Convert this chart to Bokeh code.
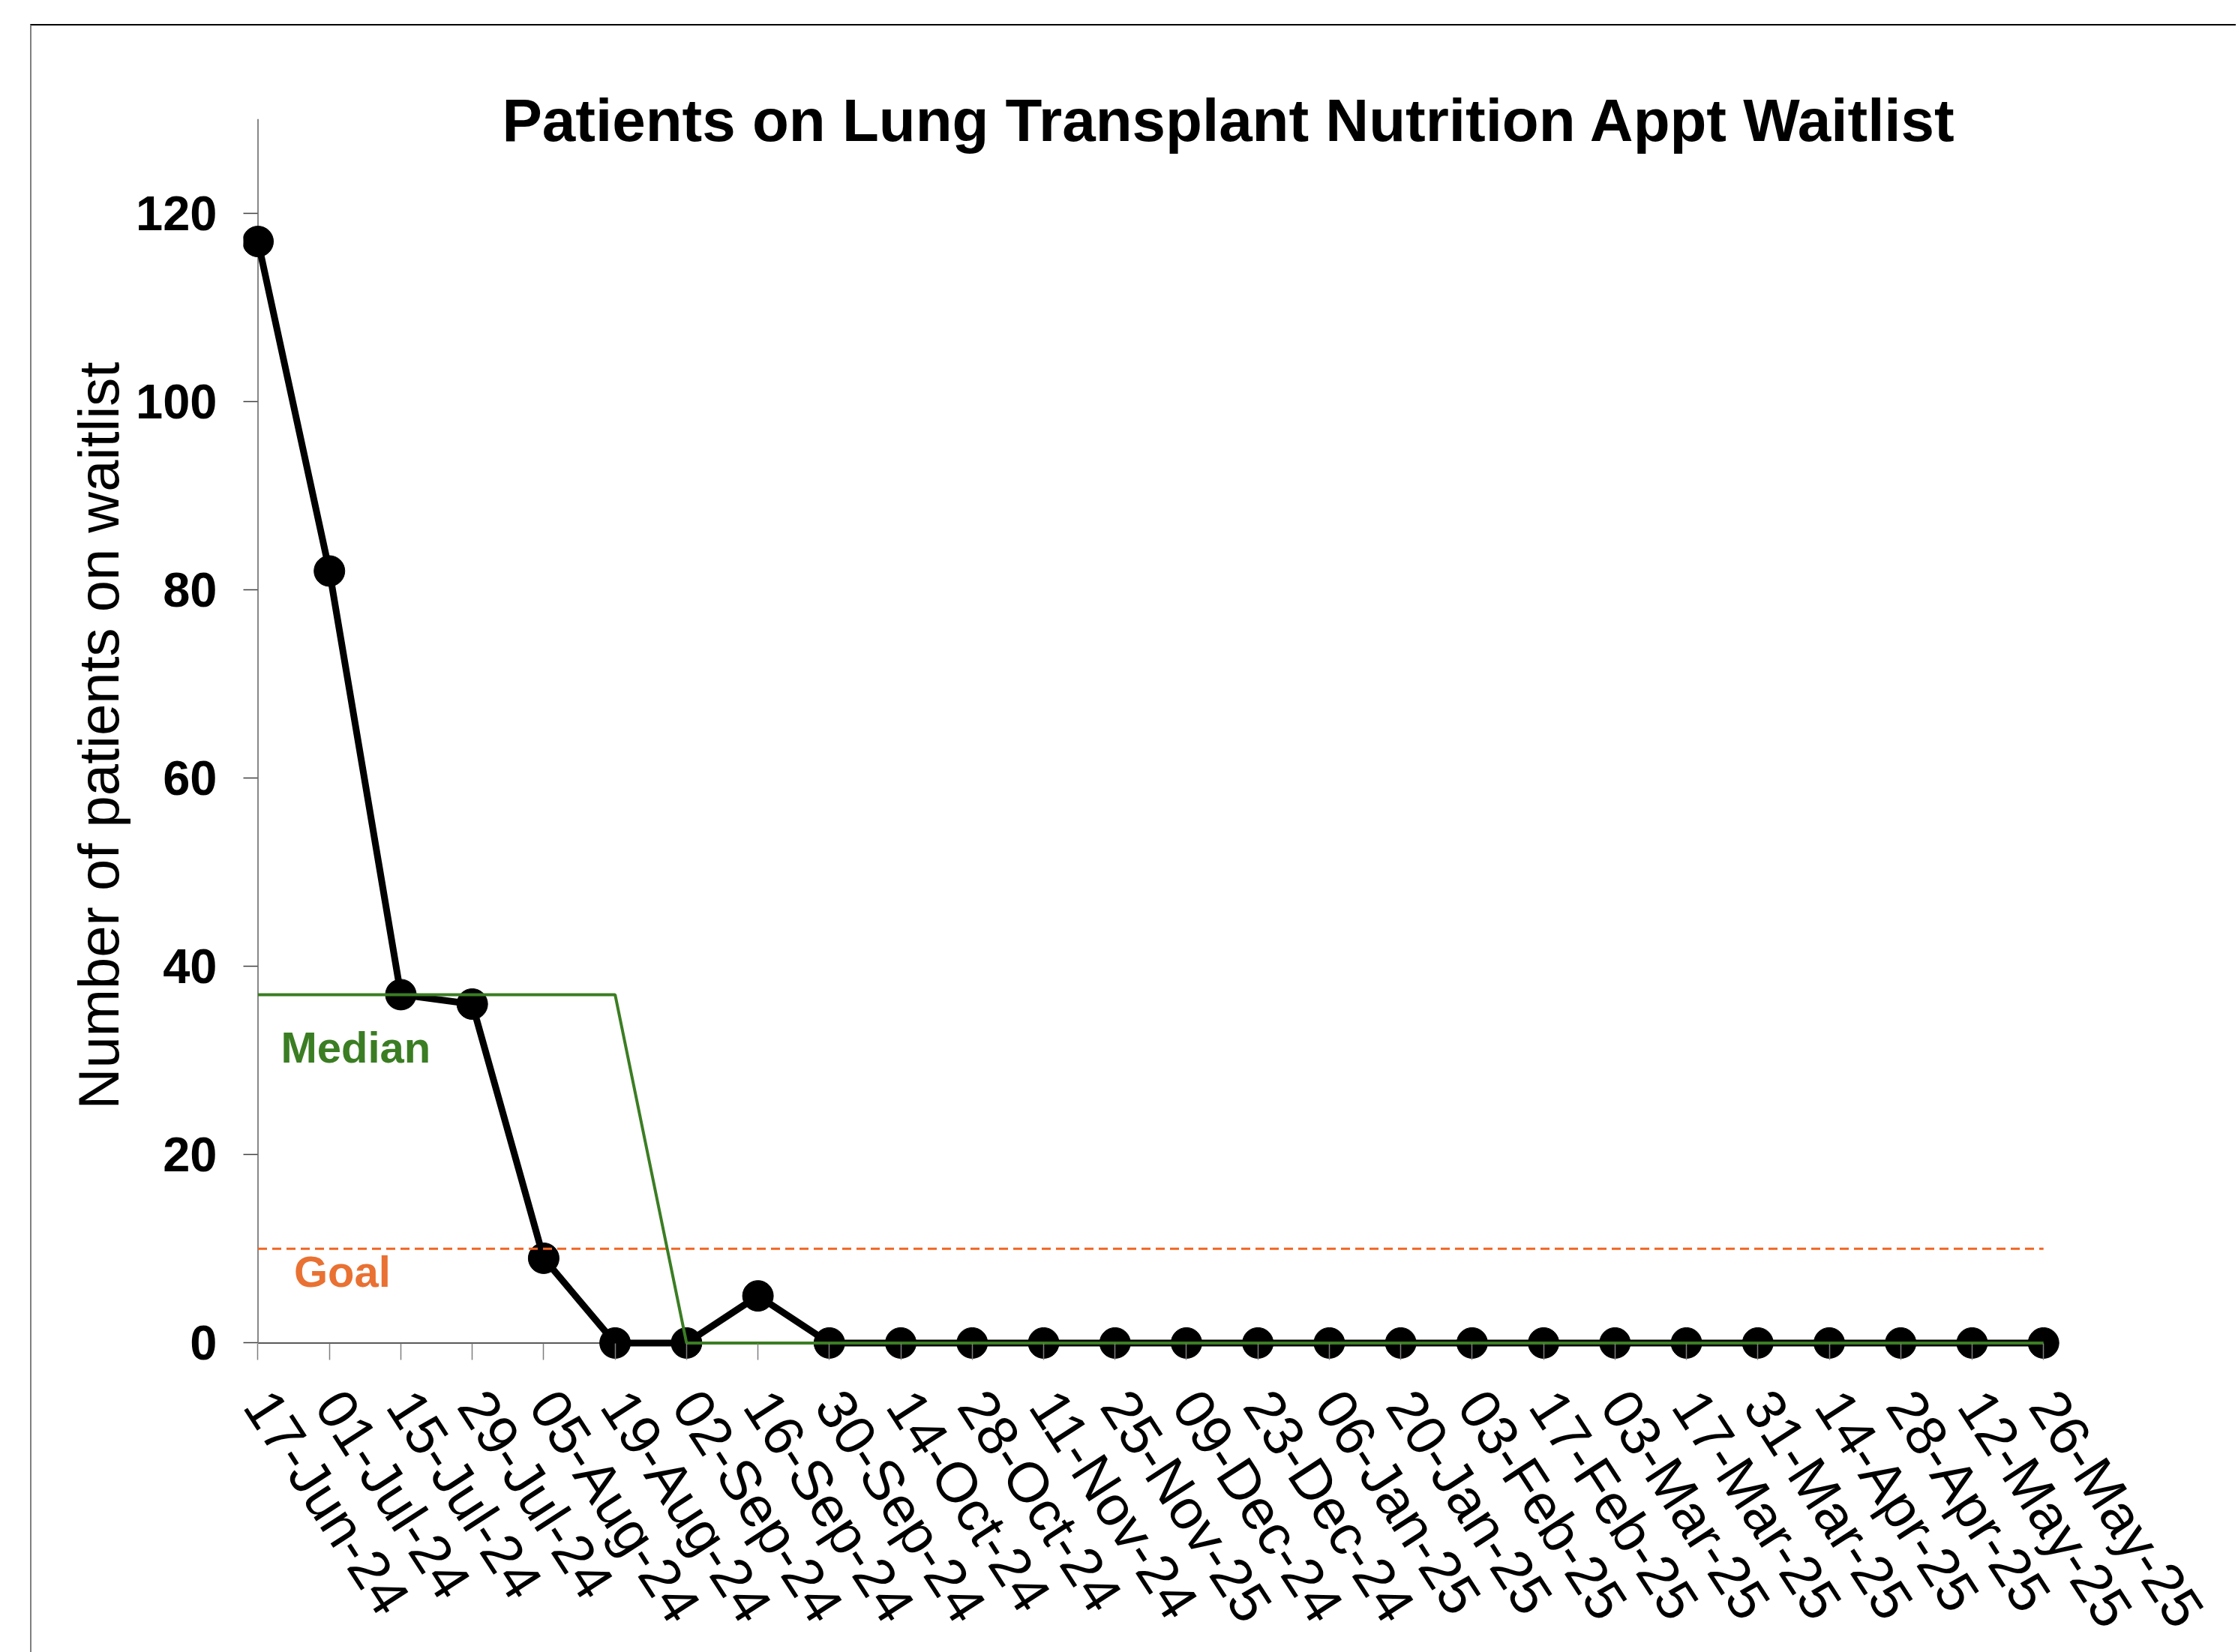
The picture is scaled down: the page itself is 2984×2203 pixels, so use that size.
import math
from bokeh.plotting import figure
from bokeh.models import Range1d, FixedTicker, Label, Title
from bokeh.embed import file_html
from bokeh.resources import INLINE

dates = ["17-Jun-24", "01-Jul-24", "15-Jul-24", "29-Jul-24", "05-Aug-24", "19-Aug-24",
         "02-Sep-24", "16-Sep-24", "30-Sep-24", "14-Oct-24", "28-Oct-24", "11-Nov-24",
         "25-Nov-25", "09-Dec-24", "23-Dec-24", "06-Jan-25", "20-Jan-25", "03-Feb-25",
         "17-Feb-25", "03-Mar-25", "17-Mar-25", "31-Mar-25", "14-Apr-25", "28-Apr-25",
         "12-May-25", "26-May-25"]
waitlist = [117, 82, 37, 36, 9, 0, 0, 5, 0, 0, 0, 0, 0, 0, 0, 0, 0, 0, 0, 0, 0, 0, 0, 0, 0, 0]
median = [37, 37, 37, 37, 37, 37, 0, 0, 0, 0, 0, 0, 0, 0, 0, 0, 0, 0, 0, 0, 0, 0, 0, 0, 0, 0]
goal = [10, 10, 10, 10, 10, 10, 10, 10, 10, 10, 10, 10, 10, 10, 10, 10, 10, 10, 10, 10, 10, 10, 10, 10, 10, 10]
y_ticks = [0, 20, 40, 60, 80, 100, 120]
y_max = 130

TITLE = "Patients on Lung Transplant Nutrition Appt Waitlist"
Y_LABEL = "Number of patients on waitlist"

x = list(range(len(dates)))

GREEN = "#3B7D23"
ORANGE_LINE = "#F26522"
ORANGE_TEXT = "#E97132"

X_TICK = 19.5      # px, tick length on x axis side (y-axis ticks)
Y_PAD = 1.8        # data units below zero

p = figure(frame_width=2424, frame_height=1730,
           x_range=Range1d(-X_TICK / 95.23, 25.25), y_range=Range1d(-Y_PAD, 136),
           output_backend="svg", toolbar_location=None,
           min_border_left=282, min_border_top=49, min_border_right=233,
           min_border_bottom=380,
           margin=(32, 0, 0, 40),
           styles={"border-top": "2px solid #000000", "border-left": "2px solid #808080"},
           background_fill_color="white", border_fill_color="white")

p.outline_line_color = None
p.xgrid.visible = False
p.ygrid.visible = False

# axis lines drawn at the data origin
p.line([x[0], x[-1]], [0, 0], line_width=2, color="#5a5a5a")
p.line([x[0], x[0]], [0, y_max], line_width=2, color="#878787")

# series
p.line(x, waitlist, line_width=9, color="black")
p.scatter(x, waitlist, size=41, color="black")
p.line(x, goal, line_width=3, color=ORANGE_LINE, line_dash="12 7")
p.line(x, median, line_width=4, color=GREEN)

# axes (ticks reach inward from the frame edge to the origin lines)
p.xaxis.ticker = FixedTicker(ticks=x)
p.xaxis.major_label_overrides = {i: d for i, d in zip(x, dates)}
p.xaxis.major_label_orientation = -math.radians(57)
p.xaxis.major_label_text_font = "Liberation Sans"
p.xaxis.major_label_text_font_size = "75px"
p.xaxis.major_label_text_color = "black"
p.xaxis.major_label_standoff = 48
p.xaxis.axis_line_color = None
p.xaxis.major_tick_line_color = "#7f7f7f"
p.xaxis.major_tick_line_width = 1.5
p.xaxis.major_tick_out = 0
p.xaxis.major_tick_in = 22
p.xaxis.minor_tick_line_color = None

p.yaxis.ticker = FixedTicker(ticks=y_ticks)
p.yaxis.major_label_text_font = "Liberation Sans"
p.yaxis.major_label_text_font_style = "bold"
p.yaxis.major_label_text_font_size = "65px"
p.yaxis.major_label_text_color = "black"
p.yaxis.major_label_standoff = 35
p.yaxis.axis_line_color = None
p.yaxis.major_tick_line_color = "#404040"
p.yaxis.major_tick_line_width = 1.5
p.yaxis.major_tick_out = 0
p.yaxis.major_tick_in = 19
p.yaxis.minor_tick_line_color = None

# y-axis title as a side title so it can be placed along the axis
p.add_layout(Title(text=Y_LABEL, align="left", offset=334, standoff=10,
                   text_font="Liberation Sans", text_font_style="normal",
                   text_font_size="76px", text_color="black"), "left")

# texts
p.add_layout(Label(x=13.6, y=129.9, text=TITLE, text_font="Liberation Sans",
                   text_font_style="bold", text_font_size="80px", text_color="black",
                   text_align="center", text_baseline="alphabetic"))
p.add_layout(Label(x=0.32, y=31.4, text="Median", text_font="Liberation Sans",
                   text_font_style="bold", text_font_size="58px", text_color=GREEN,
                   text_align="left", text_baseline="alphabetic"))
p.add_layout(Label(x=0.504, y=7.6, text="Goal", text_font="Liberation Sans",
                   text_font_style="bold", text_font_size="58px", text_color=ORANGE_TEXT,
                   text_align="left", text_baseline="alphabetic"))

open("out.html", "w").write(file_html(p, INLINE))
